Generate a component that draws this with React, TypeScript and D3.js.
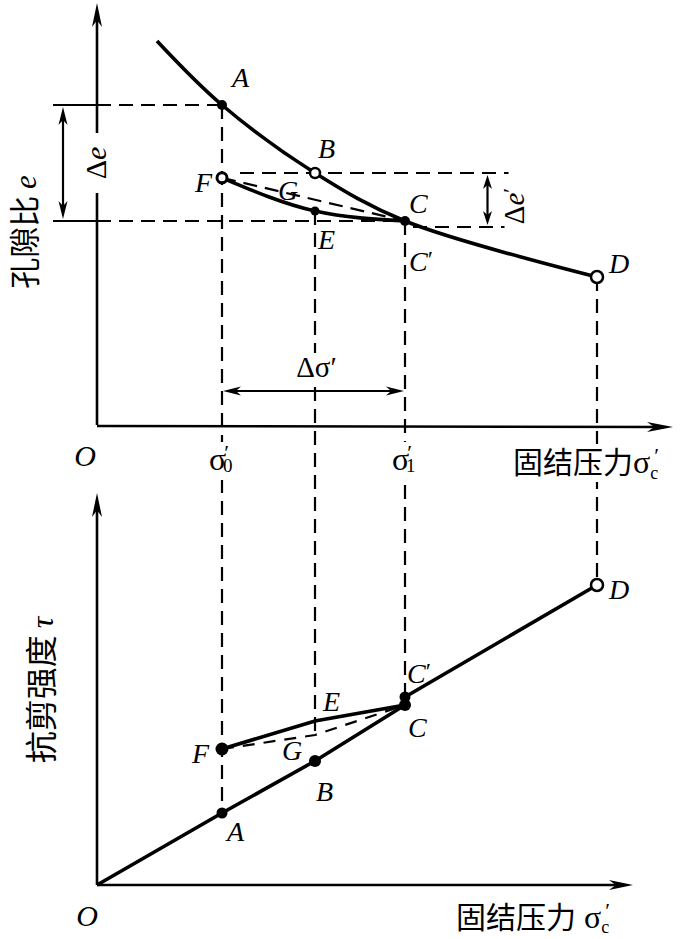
import React from 'react';
import * as d3 from 'd3';

// ---------- data (schematic values) ----------
// stress positions (arbitrary units)
const sigma0 = 2.5;      // σ'0 (A, F)
const sigmaMid = 4.36;   // B, E, G
const sigma1 = 6.16;     // σ'1 (C, C')
const sigmaD = 10;       // D

// top panel: void ratio e
const virginStress = [1.2, 2.5, 4.36, 6.16, 10];
const virginVoid = [0.96, 0.8, 0.63, 0.51, 0.37];
const reloadStress = [2.5, 4.36, 6.16]; // F, E, C
const reloadVoid = [0.618, 0.535, 0.51];
const topPointNames = ['A', 'B', 'C', 'D', 'E', 'F'];
const topPointStress = [2.5, 4.36, 6.16, 10, 4.36, 2.5];
const topPointVoid = [0.8, 0.63, 0.51, 0.37, 0.535, 0.618];
const deltaEPrimeLow = 0.495;

// bottom panel: shear strength τ
const envStress = [0, 2.5, 4.36, 6.16]; // O A B C
const envTau = [0, 0.18, 0.31, 0.45];
const upperStress = [6.16, 6.16, 10]; // C C' D
const upperTau = [0.45, 0.47, 0.75];
const unloadStress = [2.5, 4.36, 6.16]; // F E C
const unloadTau = [0.34, 0.41, 0.45];
const chordStress = [2.5, 4.36, 6.16]; // F G C
const chordTau = [0.34, 0.375, 0.45];

// ---------- scales ----------
const x = d3.scaleLinear().domain([0, 10]).range([97, 597]);
const yTop = d3.scaleLinear().domain([0, 1]).range([425, 25]);
const yBot = d3.scaleLinear().domain([0, 1]).range([885, 485]);

const serif = '"Liberation Serif", "DejaVu Serif", serif';
const cjk = '"Noto Sans CJK SC", sans-serif';
const DASH = '14 8';

function arrowHead(tx: number, ty: number, angleDeg: number, L = 20, W = 9) {
  const a = (angleDeg * Math.PI) / 180;
  const pts: [number, number][] = [
    [0, 0],
    [-L, -W / 2],
    [-L * 0.72, 0],
    [-L, W / 2],
  ];
  const r = pts.map(([px, py]) => [
    tx + px * Math.cos(a) - py * Math.sin(a),
    ty + px * Math.sin(a) + py * Math.cos(a),
  ]);
  return 'M' + r.map((p) => p.join(',')).join('L') + 'Z';
}

function Letter({ px, py, t, anchor = 'start' }: { px: number; py: number; t: string; anchor?: string }) {
  const prime = t.endsWith("'");
  return (
    <text x={px} y={py} fontFamily={serif} fontStyle="italic" fontSize={28} textAnchor={anchor as any}>
      {prime ? t[0] : t}
      {prime && <tspan fontStyle="normal" fontSize={24} dy={-4}>′</tspan>}
    </text>
  );
}

function SigmaLabel({ cx, by, sub }: { cx: number; by: number; sub: string }) {
  return (
    <g>
      <rect x={cx - 16} y={by - 28} width={34} height={38} fill="white" />
      <text x={cx - 13} y={by} fontFamily={serif} fontSize={32}>
        σ<tspan fontSize={22} dx={-2} dy={-10}>′</tspan><tspan fontSize={19} dx={-6} dy={12}>{sub}</tspan>
      </text>
    </g>
  );
}

export default function App() {
  const lineBot = d3.line<[number, number]>().x((d) => x(d[0])).y((d) => yBot(d[1]));
  const virgin = d3
    .line<[number, number]>()
    .x((d) => x(d[0]))
    .y((d) => yTop(d[1]))
    .curve(d3.curveCatmullRom.alpha(0.5))(virginStress.map((s, i) => [s, virginVoid[i]]));
  const reload = d3
    .line<[number, number]>()
    .x((d) => x(d[0]))
    .y((d) => yTop(d[1]))
    .curve(d3.curveMonotoneX)(reloadStress.map((s, i) => [s, reloadVoid[i]]));

  const pt = (n: string) => {
    const i = topPointNames.indexOf(n);
    return [x(topPointStress[i]), yTop(topPointVoid[i])];
  };
  const [ax, ay] = pt('A');
  const [bx, by] = pt('B');
  const [cx, cy] = pt('C');
  const [dx, dy] = pt('D');
  const [ex, ey] = pt('E');
  const [fx, fy] = pt('F');

  const axisTopY = yTop(0);
  const axisBotY = yBot(0);
  const x0 = x(0);

  const bA = [x(envStress[1]), yBot(envTau[1])];
  const bB = [x(envStress[2]), yBot(envTau[2])];
  const bC = [x(envStress[3]), yBot(envTau[3])];
  const bCp = [x(upperStress[1]), yBot(upperTau[1])];
  const bD = [x(upperStress[2]), yBot(upperTau[2])];
  const bF = [x(unloadStress[0]), yBot(unloadTau[0])];
  const bE = [x(unloadStress[1]), yBot(unloadTau[1])];
  const bG = [x(chordStress[1]), yBot(chordTau[1])];

  const rightX = x(8.23);
  const dArrowY = yTop(0.085);
  const dePx = x(7.81);

  return (
    <svg width={694} height={939} style={{ position: 'absolute', left: 0, top: 0, background: 'white' }}>
      <rect width={694} height={939} fill="white" />
      {/* ---------- vertical projection dashed lines ---------- */}
      <g stroke="black" strokeWidth={2.2} strokeDasharray={DASH} fill="none">
        <line x1={x(sigma0)} x2={x(sigma0)} y1={ay} y2={bA[1]} />
        <line x1={x(sigmaMid)} x2={x(sigmaMid)} y1={ey} y2={bG[1] + 3} />
        <line x1={x(sigma1)} x2={x(sigma1)} y1={cy} y2={bCp[1]} />
        <line x1={x(sigmaD)} x2={x(sigmaD)} y1={dy} y2={bD[1]} />
        {/* horizontal dashed */}
        <line x1={x0} x2={ax} y1={ay} y2={ay} />
        <line x1={x0} x2={cx} y1={cy} y2={cy} />
        <line x1={fx + 18} x2={rightX} y1={by} y2={by} />
        <line x1={cx + 8} x2={rightX - 4} y1={yTop(deltaEPrimeLow)} y2={yTop(deltaEPrimeLow)} />
        <line x1={fx} x2={cx} y1={fy} y2={cy} />
      </g>
      {/* solid stubs left of y axis */}
      <g stroke="black" strokeWidth={2.2}>
        <line x1={53} x2={x0} y1={ay} y2={ay} />
        <line x1={53} x2={x0} y1={cy} y2={cy} />
      </g>

      {/* ---------- top axes ---------- */}
      <g stroke="black" strokeWidth={2.6}>
        <line x1={x0} x2={x0} y1={axisTopY} y2={yTop(0.58)} />
        <line x1={x0} x2={x0} y1={yTop(0.73)} y2={yTop(1.03)} />
        <line x1={x0} x2={x(11.3)} y1={axisTopY + 1} y2={axisTopY + 2} />
      </g>
      <path d={arrowHead(x0, yTop(1.055), -90, 24, 10)} fill="black" />
      <path d={arrowHead(x(11.52), axisTopY + 2, 0, 26, 10)} fill="black" />

      {/* Δ arrows */}
      <g stroke="black" strokeWidth={2.2}>
        <line x1={63} x2={63} y1={ay + 12} y2={cy - 12} />
        <line x1={dePx} x2={dePx} y1={by + 10} y2={yTop(deltaEPrimeLow) - 10} />
        <line x1={ax + 10} x2={cx - 10} y1={dArrowY} y2={dArrowY} />
      </g>
      <path d={arrowHead(63, ay + 2, -90, 18, 9)} fill="black" />
      <path d={arrowHead(63, cy - 2, 90, 18, 9)} fill="black" />
      <path d={arrowHead(dePx, by + 2, -90, 14, 9)} fill="black" />
      <path d={arrowHead(dePx, yTop(deltaEPrimeLow) - 2, 90, 14, 9)} fill="black" />
      <path d={arrowHead(ax + 1, dArrowY, 180, 18, 9)} fill="black" />
      <path d={arrowHead(cx - 1, dArrowY, 0, 18, 9)} fill="black" />

      {/* ---------- top curves ---------- */}
      <path d={virgin ?? ''} stroke="black" strokeWidth={3.6} fill="none" />
      <path d={reload ?? ''} stroke="black" strokeWidth={3.6} fill="none" />
      <circle cx={ax} cy={ay} r={5} fill="black" />
      <circle cx={bx} cy={by} r={5} fill="white" stroke="black" strokeWidth={2.5} />
      <circle cx={fx} cy={fy} r={5} fill="white" stroke="black" strokeWidth={3} />
      <circle cx={ex} cy={ey} r={4.5} fill="black" />
      <circle cx={cx} cy={cy} r={5} fill="black" />
      <circle cx={dx} cy={dy} r={6} fill="white" stroke="black" strokeWidth={2.5} />

      {/* top letters */}
      <Letter px={ax + 10} py={ay - 18} t="A" />
      <Letter px={bx + 3} py={by - 15} t="B" />
      <Letter px={fx - 10} py={fy + 14} t="F" anchor="end" />
      <Letter px={ax + 56} py={fy + 22} t="G" />
      <Letter px={cx + 4} py={cy - 8} t="C" />
      <Letter px={ex + 3} py={ey + 38} t="E" />
      <Letter px={cx + 4} py={cy + 50} t="C'" />
      <Letter px={dx + 12} py={dy - 4} t="D" />

      {/* Δ labels */}
      <text transform={`translate(106, ${(ay + cy) / 2}) rotate(-90)`} fontFamily={serif} fontSize={30} textAnchor="middle">
        Δ<tspan fontStyle="italic">e</tspan>
      </text>
      <text transform={`translate(524, ${(by + yTop(deltaEPrimeLow)) / 2 + 6}) rotate(-90)`} fontFamily={serif} fontSize={29} textAnchor="middle">
        Δ<tspan fontStyle="italic">e</tspan><tspan fontSize={22} dy={-6}>′</tspan>
      </text>
      <rect x={(ax + cx) / 2 - 22} y={dArrowY - 38} width={50} height={30} fill="white" />
      <text x={(ax + cx) / 2 + 3} y={dArrowY - 14} fontFamily={serif} fontSize={29} textAnchor="middle">
        Δσ′
      </text>

      {/* top axis labels */}
      <text x={85} y={466} fontFamily={serif} fontStyle="italic" fontSize={30} textAnchor="middle">O</text>
      <SigmaLabel cx={x(sigma0)} by={470} sub="0" />
      <SigmaLabel cx={x(sigma1)} by={470} sub="1" />
      <rect x={510} y={444} width={184} height={38} fill="white" />
      <text x={513} y={473} fontFamily={cjk} fontSize={30}>
        固结压力<tspan fontFamily={serif} fontSize={32}>σ</tspan><tspan fontFamily={serif} fontSize={18} dy={6}>c</tspan><tspan fontFamily={serif} fontSize={22} dy={-16} dx={-4}>′</tspan>
      </text>
      <text transform="translate(36, 232) rotate(-90)" fontFamily={cjk} fontSize={31} textAnchor="middle">
        孔隙比 <tspan fontFamily={serif} fontStyle="italic">e</tspan>
      </text>

      {/* ---------- bottom axes ---------- */}
      <g stroke="black" strokeWidth={2.6}>
        <line x1={x0} x2={x0} y1={axisBotY} y2={yBot(0.955)} />
        <line x1={x0} x2={x(10.5)} y1={axisBotY} y2={axisBotY} />
      </g>
      <path d={arrowHead(x0, yBot(0.98), -90, 24, 10)} fill="black" />
      <path d={arrowHead(x(10.72), axisBotY, 0, 24, 10)} fill="black" />

      {/* bottom lines */}
      <path d={lineBot(envStress.map((s, i) => [s, envTau[i]] as [number, number])) ?? ''} stroke="black" strokeWidth={3.6} fill="none" />
      <path d={lineBot(upperStress.map((s, i) => [s, upperTau[i]] as [number, number])) ?? ''} stroke="black" strokeWidth={3.6} fill="none" />
      <path d={lineBot(unloadStress.map((s, i) => [s, unloadTau[i]] as [number, number])) ?? ''} stroke="black" strokeWidth={3.8} fill="none" />
      <path d={lineBot(chordStress.map((s, i) => [s, chordTau[i]] as [number, number])) ?? ''} stroke="black" strokeWidth={2.2} strokeDasharray="12 9" fill="none" />
      <circle cx={bA[0]} cy={bA[1]} r={5.5} fill="black" />
      <circle cx={bB[0]} cy={bB[1]} r={6} fill="black" />
      <circle cx={bC[0]} cy={bC[1]} r={6} fill="black" />
      <circle cx={bCp[0]} cy={bCp[1]} r={5.5} fill="black" />
      <circle cx={bF[0]} cy={bF[1]} r={6.5} fill="black" />
      <circle cx={bD[0]} cy={bD[1]} r={6} fill="white" stroke="black" strokeWidth={2.5} />

      {/* bottom letters */}
      <Letter px={bD[0] + 12} py={bD[1] + 14} t="D" />
      <Letter px={bCp[0] + 2} py={bCp[1] - 14} t="C'" />
      <Letter px={bE[0] + 8} py={bE[1] - 10} t="E" />
      <Letter px={bC[0] + 3} py={bC[1] + 32} t="C" />
      <Letter px={bF[0] - 13} py={bF[1] + 14} t="F" anchor="end" />
      <Letter px={bG[0] - 33} py={bG[1] + 25} t="G" />
      <Letter px={bB[0] + 1} py={bB[1] + 40} t="B" />
      <Letter px={bA[0] + 5} py={bA[1] + 28} t="A" />

      {/* bottom axis labels */}
      <text x={87} y={926} fontFamily={serif} fontStyle="italic" fontSize={30} textAnchor="middle">O</text>
      <text x={456} y={928} fontFamily={cjk} fontSize={30}>
        固结压力<tspan fontFamily={serif} fontSize={32} dx={8}>σ</tspan><tspan fontFamily={serif} fontSize={18} dy={5}>c</tspan><tspan fontFamily={serif} fontSize={22} dy={-15} dx={-4}>′</tspan>
      </text>
      <text transform="translate(53, 690) rotate(-90)" fontFamily={cjk} fontSize={32} textAnchor="middle">
        抗剪强度 <tspan fontFamily={serif} fontStyle="italic">τ</tspan>
      </text>
    </svg>
  );
}
